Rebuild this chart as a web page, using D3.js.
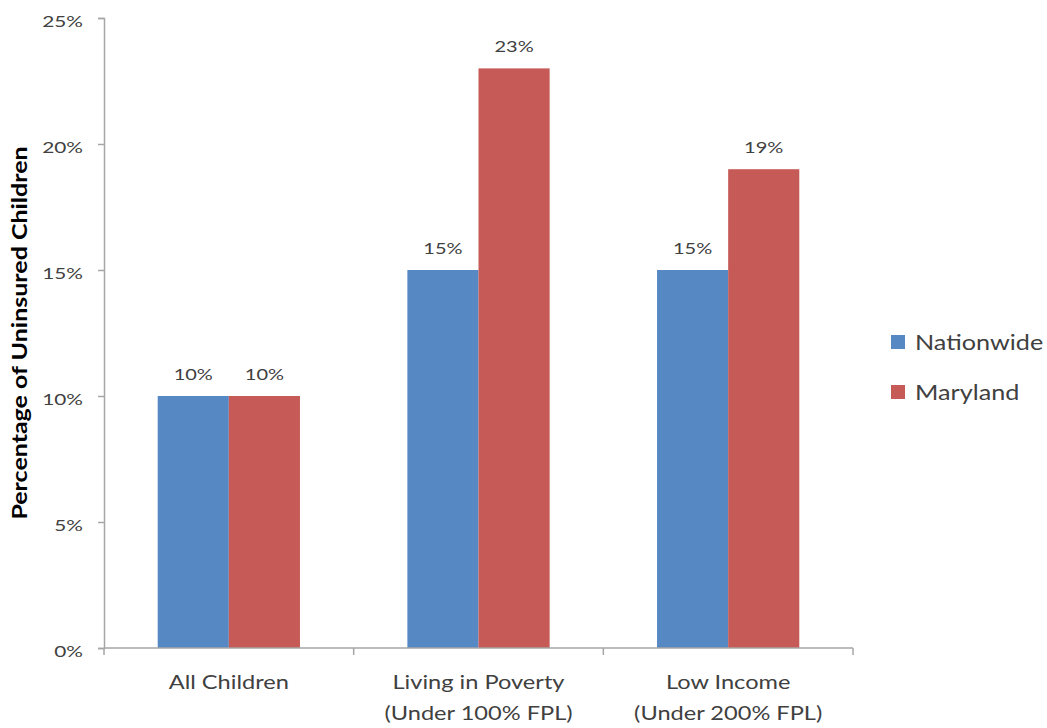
<!DOCTYPE html>
<html>
<head>
<meta charset="utf-8">
<script src="https://cdn.jsdelivr.net/npm/d3@7"></script>
<style>
  body { margin: 0; background: #fff; }
  svg text { font-family: Lato, "Open Sans", sans-serif; fill: #404040; }
</style>
</head>
<body>
<div id="chart"></div>
<script>
// chart data
var categories = ["All Children", "Living in Poverty|(Under 100% FPL)", "Low Income|(Under 200% FPL)"];
var seriesNames = ["Nationwide", "Maryland"];
var nationwide = [10, 15, 15];
var maryland = [10, 23, 19];
var yTicks = [0, 5, 10, 15, 20, 25];

var colors = ["#5689C4", "#C65A56"];

var width = 1047, height = 728;
var margin = { left: 104, right: 194, top: 18, bottom: 80 };
var sx = 1.3; // text in the original is drawn wide

var svg = d3.select("#chart").append("svg")
  .attr("width", width)
  .attr("height", height);

var plotW = width - margin.left - margin.right,
    plotH = height - margin.top - margin.bottom;

var g = svg.append("g")
  .attr("transform", "translate(" + margin.left + "," + margin.top + ")");

var x0 = d3.scaleBand().domain(categories).range([0, plotW]).paddingInner(0).paddingOuter(0);
var x1 = d3.scaleBand().domain(seriesNames).range([0, x0.bandwidth()]).paddingInner(0).paddingOuter(0.755);
var y = d3.scaleLinear().domain([0, 25]).range([plotH, 0]);

// y axis
var yAxis = d3.axisLeft(y).tickValues(yTicks).tickSize(6).tickFormat(function(d) { return d + "%"; });
var yg = g.append("g").call(yAxis);
yg.select(".domain").attr("stroke", "#a6a6a6").attr("stroke-width", 1.5);
yg.selectAll(".tick line").attr("stroke", "#a6a6a6").attr("stroke-width", 1.5);
yg.selectAll(".tick text")
  .attr("x", null).attr("dy", null)
  .attr("transform", "translate(-21,8) scale(" + sx + ",1)")
  .attr("font-size", 16)
  .style("font-family", "Lato, sans-serif")
  .attr("fill", "#404040");

// bars
var data = categories.map(function(c, i) {
  return { cat: c, vals: [{ s: seriesNames[0], v: nationwide[i] }, { s: seriesNames[1], v: maryland[i] }] };
});

var grp = g.selectAll(".grp").data(data).enter().append("g")
  .attr("transform", function(d) { return "translate(" + x0(d.cat) + ",0)"; });

grp.selectAll("rect").data(function(d) { return d.vals; }).enter().append("rect")
  .attr("x", function(d) { return x1(d.s); })
  .attr("y", function(d) { return y(d.v); })
  .attr("width", x1.bandwidth())
  .attr("height", function(d) { return plotH - y(d.v); })
  .attr("fill", function(d, i) { return colors[i]; });

grp.selectAll(".lbl").data(function(d) { return d.vals; }).enter().append("text")
  .attr("class", "lbl")
  .attr("transform", function(d) {
    return "translate(" + (x1(d.s) + x1.bandwidth() / 2) + "," + (y(d.v) - 16) + ") scale(1.25,1)";
  })
  .attr("text-anchor", "middle")
  .attr("font-size", 16)
  .text(function(d) { return d.v + "%"; });

// x axis
var xg = g.append("g").attr("transform", "translate(0," + plotH + ")");
xg.append("line").attr("x1", 0).attr("x2", plotW).attr("stroke", "#a6a6a6").attr("stroke-width", 1.5);
var bounds = [0].concat(categories.map(function(c) { return x0(c) + x0.bandwidth(); }));
xg.selectAll(".xt").data(bounds).enter().append("line")
  .attr("x1", function(d) { return d; }).attr("x2", function(d) { return d; })
  .attr("y1", 0).attr("y2", 7)
  .attr("stroke", "#a6a6a6").attr("stroke-width", 1.5);

xg.selectAll(".xl").data(categories).enter().append("text")
  .attr("text-anchor", "middle")
  .attr("font-size", 20)
  .attr("transform", function(d) { return "translate(" + (x0(d) + x0.bandwidth() / 2) + ",41) scale(1.18,1)"; })
  .each(function(d) {
    var t = d3.select(this);
    d.split("|").forEach(function(line, i) {
      t.append("tspan").attr("x", 0).attr("y", i * 31).text(line);
    });
  });

// y title
svg.append("text")
  .attr("transform", "translate(27," + (margin.top + plotH / 2) + ") rotate(-90) scale(1.25,1)")
  .attr("text-anchor", "middle")
  .attr("font-size", 20)
  .attr("font-weight", "bold")
  .style("fill", "#000")
  .text("Percentage of Uninsured Children");

// legend
var leg = svg.append("g").attr("transform", "translate(891,335)");
seriesNames.forEach(function(s, i) {
  var row = leg.append("g").attr("transform", "translate(0," + (i * 50) + ")");
  row.append("rect").attr("width", 14).attr("height", 14).attr("fill", colors[i]);
  row.append("text").attr("transform", "translate(24,15) scale(1.2,1)").attr("font-size", 21).text(s);
});
</script>
</body>
</html>
